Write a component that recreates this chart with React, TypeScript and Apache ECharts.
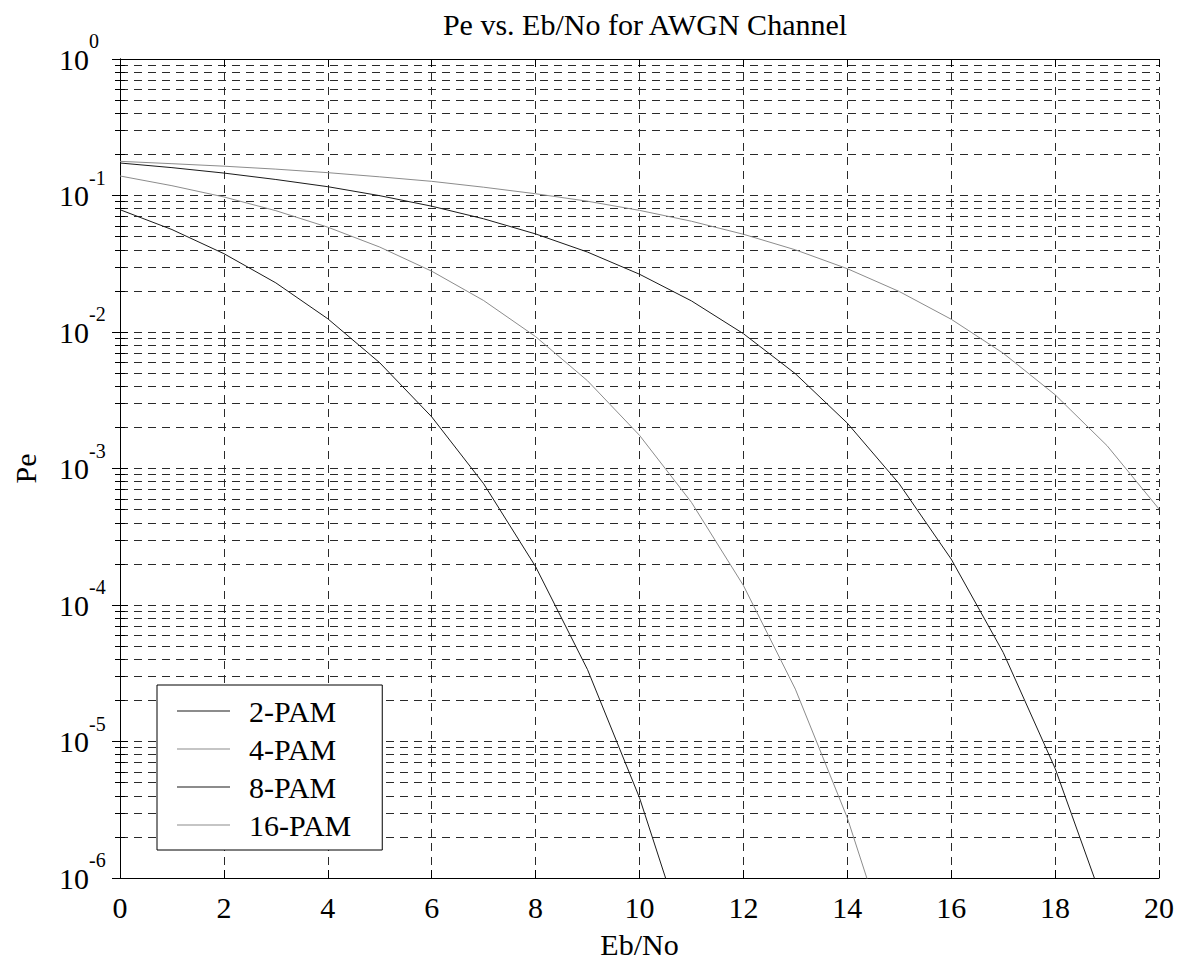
import React, { useEffect, useRef } from "react";
import * as echarts from "echarts";

const title = "Pe vs. Eb/No for AWGN Channel";
const xName = "Eb/No";
const yName = "Pe";
const ebno = [0, 1, 2, 3, 4, 5, 6, 7, 8, 9, 10, 11, 12, 13, 14, 15, 16, 17, 18, 19, 20];
const seriesNames = ["2-PAM", "4-PAM", "8-PAM", "16-PAM"];
const pam2 = [7.87e-2, 5.63e-2, 3.75e-2, 2.29e-2, 1.25e-2, 5.95e-3, 2.39e-3, 7.73e-4, 1.91e-4, 3.36e-5, 3.87e-6, 2.61e-7, 9.0e-9];
const pam4 = [1.39e-1, 1.18e-1, 9.76e-2, 7.74e-2, 5.86e-2, 4.19e-2, 2.79e-2, 1.70e-2, 9.25e-3, 4.39e-3, 1.75e-3, 5.65e-4, 1.39e-4, 2.42e-5, 2.76e-6, 1.85e-7, 6.2e-9];
const pam8 = [1.73e-1, 1.60e-1, 1.46e-1, 1.31e-1, 1.16e-1, 9.97e-2, 8.35e-2, 6.75e-2, 5.23e-2, 3.85e-2, 2.65e-2, 1.69e-2, 9.72e-3, 4.95e-3, 2.15e-3, 7.72e-4, 2.17e-4, 4.5e-5, 6.36e-6, 5.5e-7, 2.6e-8];
const pam16 = [1.78e-1, 1.71e-1, 1.64e-1, 1.56e-1, 1.47e-1, 1.37e-1, 1.27e-1, 1.15e-1, 1.03e-1, 9.08e-2, 7.78e-2, 6.48e-2, 5.2e-2, 4.0e-2, 2.91e-2, 1.98e-2, 1.24e-2, 7.0e-3, 3.47e-3, 1.47e-3, 5.05e-4];
const seriesValues = [pam2, pam4, pam8, pam16];
const seriesColors = ["#1a1a1a", "#8c8c8c", "#1a1a1a", "#8c8c8c"];
const xTicks = { min: 0, max: 20, interval: 2 };
const yRange = { min: 1e-6, max: 1 };

const FONT = "Liberation Serif, Times New Roman, serif";

export default function App() {
  const ref = useRef<HTMLDivElement>(null);
  useEffect(() => {
    if (!ref.current) return;
    const chart = echarts.init(ref.current, undefined, { renderer: "svg" });
    const dashed = { color: "#2a2a2a", width: 1, type: [8, 6] as any };
    const yLabelFmt = (v: number) => {
      const e = Math.round(Math.log10(v));
      return "{b|10}{s|" + e + "}";
    };
    const option: any = {
      animation: false,
      backgroundColor: "#fff",
      title: {
        text: title,
        left: 640,
        top: 4,
        textAlign: "center",
        textStyle: { fontFamily: FONT, fontSize: 30, fontWeight: "normal", color: "#000" },
      },
      legend: {
        orient: "vertical",
        left: 157,
        top: 685,
        padding: [11, 31, 10, 20],
        itemGap: 8,
        itemWidth: 53,
        itemHeight: 1,
        icon: "rect",
        borderColor: "#000",
        borderWidth: 1,
        borderRadius: 0,
        backgroundColor: "#fff",
        data: seriesNames,
        textStyle: { fontFamily: FONT, fontSize: 30, color: "#000", lineHeight: 30, padding: [0, 0, 0, 14] },
      },
      grid: { left: 120, top: 59, right: 18, bottom: 83, containLabel: false, outerBoundsMode: "none" },
      xAxis: [
        {
          type: "value",
          min: xTicks.min,
          max: xTicks.max,
          interval: xTicks.interval,
          name: xName,
          nameLocation: "middle",
          nameGap: 51,
          nameTextStyle: { fontFamily: FONT, fontSize: 30, color: "#000", lineHeight: 30 },
          axisLine: { lineStyle: { color: "#000", width: 1 } },
          axisTick: { inside: true, length: 8, lineStyle: { color: "#000" } },
          axisLabel: { fontFamily: FONT, fontSize: 30, color: "#000", margin: 14 },
          splitLine: { show: true, lineStyle: dashed },
        },
        {
          type: "value",
          position: "top",
          min: xTicks.min,
          max: xTicks.max,
          interval: xTicks.interval,
          axisLine: { lineStyle: { color: "#000", width: 1 } },
          axisTick: { inside: true, length: 8, lineStyle: { color: "#000" } },
          axisLabel: { show: false },
          splitLine: { show: false },
        },
      ],
      yAxis: [
        {
          type: "log",
          logBase: 10,
          min: yRange.min,
          max: yRange.max,
          splitNumber: 6,
          name: yName,
          nameLocation: "middle",
          nameGap: 80,
          nameTextStyle: { fontFamily: FONT, fontSize: 30, color: "#000" },
          axisLine: { show: true, lineStyle: { color: "#000", width: 1 } },
          axisTick: { show: true, inside: true, length: 8, lineStyle: { color: "#000" } },
          minorTick: { show: true, splitNumber: 9, length: 5, lineStyle: { color: "#000" } },
          axisLabel: {
            formatter: yLabelFmt,
            align: "left",
            margin: 61,
            color: "#000",
            rich: {
              b: { fontFamily: FONT, fontSize: 30, color: "#000" },
              s: { fontFamily: FONT, fontSize: 20, color: "#000", padding: [0, 0, 36, 0] },
            },
          },
          splitLine: { show: true, lineStyle: dashed },
          minorSplitLine: { show: true, lineStyle: dashed },
        },
        {
          type: "log",
          logBase: 10,
          position: "right",
          min: yRange.min,
          max: yRange.max,
          splitNumber: 6,
          axisLine: { show: true, lineStyle: { color: "#000", width: 1 } },
          axisTick: { show: true, inside: true, length: 8, lineStyle: { color: "#000" } },
          minorTick: { show: true, splitNumber: 9, length: 5, lineStyle: { color: "#000" } },
          axisLabel: { show: false },
          splitLine: { show: false },
          minorSplitLine: { show: false },
        },
      ],
      series: seriesNames.map((name, i) => ({
        name,
        type: "line",
        xAxisIndex: 0,
        yAxisIndex: 0,
        symbol: "none",
        clip: true,
        color: seriesColors[i],
        lineStyle: { color: seriesColors[i], width: 1 },
        data: seriesValues[i].map((v, j) => [ebno[j], v]),
      })),
    };
    chart.setOption(option);
    return () => chart.dispose();
  }, []);
  return (
    <div
      ref={ref}
      style={{ position: "absolute", left: 0, top: 0, width: 1177, height: 961, background: "#fff" }}
    />
  );
}
